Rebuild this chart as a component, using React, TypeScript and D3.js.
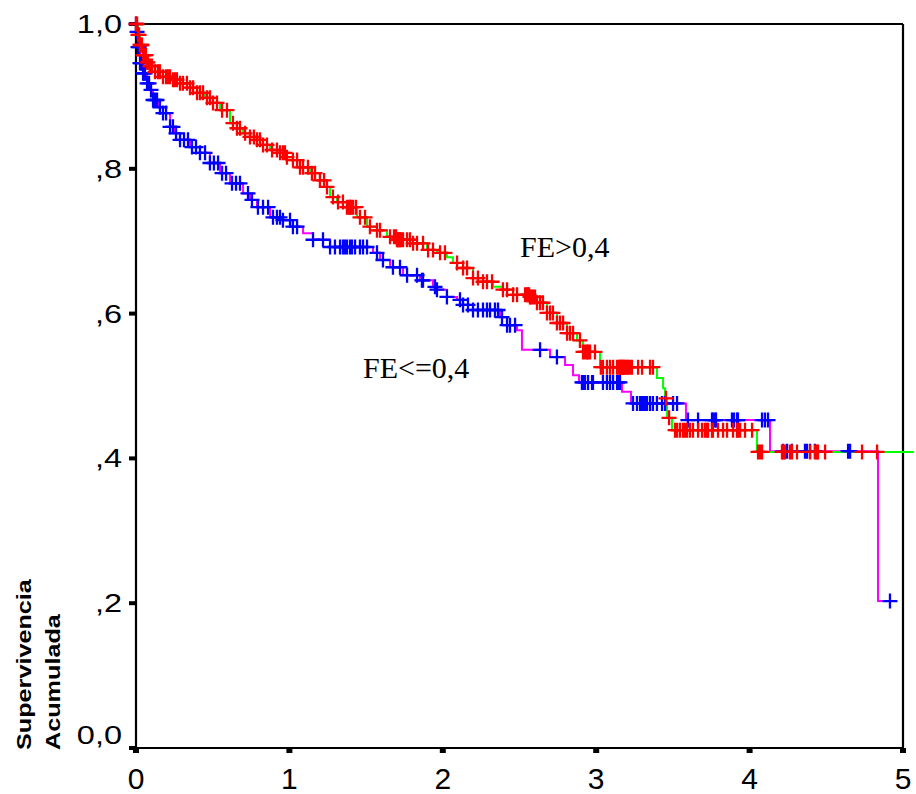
import React from "react";
import * as d3 from "d3";

// Kaplan-Meier: FE>0,4 (red marks / green line)
const hiTimes = [0.013,0.026,0.046,0.072,0.091,0.124,0.176,0.235,0.287,0.352,0.398,0.450,0.502,0.548,0.613,0.658,0.698,0.743,0.789,0.828,0.874,0.939,0.984,1.023,1.069,1.134,1.199,1.245,1.265,1.310,1.375,1.441,1.506,1.571,1.636,1.701,1.806,1.897,1.962,2.027,2.066,2.132,2.197,2.262,2.327,2.392,2.458,2.568,2.614,2.679,2.744,2.810,2.875,2.914,3.025,3.396,3.436,3.449,3.462,3.494,4.048];
const hiSurv = [0.985,0.971,0.957,0.947,0.942,0.934,0.927,0.923,0.918,0.912,0.905,0.898,0.891,0.881,0.863,0.856,0.849,0.844,0.840,0.833,0.826,0.822,0.816,0.812,0.802,0.794,0.784,0.775,0.761,0.754,0.747,0.733,0.720,0.715,0.706,0.702,0.697,0.688,0.684,0.678,0.670,0.663,0.649,0.644,0.637,0.633,0.626,0.623,0.615,0.601,0.587,0.573,0.563,0.547,0.526,0.511,0.497,0.483,0.456,0.439,0.409];
const hiEnd = 5.07;
const hiCensored = [0.000,0.007,0.013,0.020,0.026,0.033,0.039,0.046,0.052,0.059,0.065,0.072,0.078,0.091,0.104,0.124,0.143,0.156,0.176,0.196,0.209,0.222,0.241,0.254,0.267,0.287,0.306,0.332,0.352,0.372,0.398,0.417,0.437,0.463,0.482,0.502,0.528,0.561,0.593,0.632,0.658,0.678,0.711,0.743,0.769,0.789,0.808,0.828,0.854,0.887,0.919,0.939,0.958,0.971,0.984,1.023,1.050,1.069,1.089,1.121,1.147,1.167,1.199,1.226,1.245,1.284,1.317,1.349,1.375,1.389,1.395,1.402,1.415,1.434,1.460,1.493,1.525,1.571,1.591,1.656,1.682,1.695,1.701,1.708,1.714,1.721,1.728,1.741,1.767,1.786,1.806,1.832,1.871,1.904,1.936,1.982,2.014,2.093,2.132,2.158,2.197,2.229,2.262,2.288,2.321,2.392,2.419,2.458,2.484,2.536,2.549,2.555,2.562,2.568,2.575,2.588,2.601,2.614,2.634,2.653,2.679,2.699,2.718,2.744,2.764,2.784,2.810,2.829,2.849,2.894,2.914,2.927,2.940,2.947,2.960,2.992,3.030,3.044,3.070,3.090,3.110,3.136,3.149,3.155,3.162,3.168,3.175,3.181,3.188,3.201,3.207,3.220,3.233,3.273,3.299,3.351,3.370,3.455,3.475,3.514,3.527,3.546,3.566,3.579,3.592,3.611,3.631,3.664,3.690,3.709,3.722,3.729,3.755,3.761,3.794,3.827,3.853,3.892,3.918,3.924,3.938,3.970,4.016,4.055,4.068,4.081,4.211,4.218,4.231,4.263,4.276,4.309,4.394,4.426,4.439,4.446,4.492,4.733,4.831];

// Kaplan-Meier: FE<=0,4 (blue marks / magenta line)
const loTimes = [0.007,0.013,0.026,0.046,0.072,0.091,0.111,0.143,0.176,0.222,0.254,0.287,0.352,0.417,0.482,0.548,0.613,0.698,0.743,0.789,0.874,0.958,1.023,1.089,1.154,1.265,1.545,1.591,1.656,1.741,1.851,1.936,1.962,2.027,2.093,2.132,2.197,2.373,2.418,2.484,2.516,2.699,2.797,2.849,2.888,3.168,3.227,3.585,4.133,4.837];
const loSurv = [0.989,0.968,0.946,0.932,0.918,0.909,0.895,0.885,0.877,0.858,0.849,0.840,0.830,0.822,0.808,0.794,0.780,0.766,0.757,0.747,0.733,0.729,0.720,0.711,0.702,0.692,0.684,0.674,0.664,0.653,0.646,0.637,0.633,0.623,0.619,0.612,0.605,0.595,0.584,0.577,0.550,0.540,0.529,0.515,0.505,0.492,0.476,0.453,0.410,0.203];
const loEnd = 4.915;
const loCensored = [0.000,0.007,0.013,0.020,0.026,0.033,0.039,0.046,0.052,0.059,0.072,0.085,0.098,0.111,0.124,0.137,0.156,0.176,0.196,0.222,0.241,0.261,0.287,0.313,0.339,0.365,0.391,0.417,0.450,0.482,0.508,0.535,0.561,0.587,0.626,0.652,0.678,0.730,0.756,0.795,0.828,0.861,0.893,0.919,0.939,0.958,1.004,1.023,1.050,1.154,1.219,1.265,1.297,1.330,1.349,1.362,1.375,1.395,1.408,1.428,1.460,1.480,1.506,1.571,1.610,1.675,1.721,1.767,1.832,1.864,1.871,1.949,1.962,2.027,2.112,2.132,2.164,2.197,2.229,2.262,2.288,2.308,2.340,2.360,2.386,2.419,2.438,2.471,2.634,2.744,2.907,2.914,2.927,2.947,2.973,2.979,3.044,3.070,3.090,3.110,3.136,3.142,3.155,3.240,3.266,3.286,3.299,3.305,3.318,3.331,3.351,3.370,3.396,3.429,3.449,3.501,3.527,3.598,3.664,3.755,3.761,3.775,3.781,3.885,3.898,3.918,3.924,4.081,4.100,4.120,4.218,4.244,4.276,4.361,4.374,4.394,4.426,4.642,4.655,4.915];

const xTicks = [0, 1, 2, 3, 4, 5];
const yTicks = [0, 0.2, 0.4, 0.6, 0.8, 1.0];
const yTickLabels = ["0,0", ",2", ",4", ",6", ",8", "1,0"];
const yTitleLines = ["Supervivencia", "Acumulada"];
const groupLabels = ["FE>0,4", "FE<=0,4"];

const W = 916, H = 794;
const x = d3.scaleLinear().domain([0, 5]).range([136, 903]);
const y = d3.scaleLinear().domain([0, 1]).range([748, 24]);

function stepPoints(times: number[], surv: number[], end: number) {
  const pts: [number, number][] = [[0, 1]];
  times.forEach((t, i) => pts.push([t, surv[i]]));
  pts.push([end, surv[surv.length - 1]]);
  return pts;
}
function survAt(times: number[], surv: number[], t: number) {
  let s = 1;
  for (let i = 0; i < times.length; i++) {
    if (times[i] <= t) s = surv[i];
    else break;
  }
  return s;
}

const line = d3
  .line<[number, number]>()
  .x((d) => x(d[0]))
  .y((d) => y(d[1]))
  .curve(d3.curveStepAfter);

function Marks({ times, surv, cens, color }: any) {
  const h = 7.5;
  return (
    <g stroke={color} strokeWidth={2.3} fill="none">
      {cens.map((t: number, i: number) => {
        const cx = x(t);
        const cy = y(survAt(times, surv, t));
        return (
          <path key={i} d={`M${cx - h},${cy}H${cx + h}M${cx},${cy - h}V${cy + h}`} />
        );
      })}
    </g>
  );
}

export default function App() {
  const hiPts = stepPoints(hiTimes, hiSurv, hiEnd);
  const loPts = stepPoints(loTimes, loSurv, loEnd);
  return (
    <svg
      width={W}
      height={H}
      style={{ position: "absolute", left: 0, top: 0, background: "#fff" }}
    >
      <rect x={0} y={0} width={W} height={H} fill="#fff" />
      {/* frame */}
      <g stroke="#000" strokeWidth={2.2} fill="none">
        <line x1={x(0)} x2={x(5)} y1={y(1)} y2={y(1)} />
        <line x1={x(5)} x2={x(5)} y1={y(1)} y2={y(0)} />
        <line x1={x(0)} x2={x(0)} y1={y(1) - 1} y2={y(0) + 1} />
        <line x1={x(0)} x2={x(5)} y1={y(0)} y2={y(0)} />
      </g>
      {/* ticks */}
      {yTicks.map((v) => (
        <rect key={"yt" + v} x={x(0) - 7} y={y(v) - 2} width={7} height={4} fill="#000" />
      ))}
      {xTicks.map((v) => (
        <rect key={"xt" + v} x={x(v) - 3} y={y(0)} width={6} height={5} fill="#000" />
      ))}
      {/* y tick labels */}
      {yTicks.map((v, i) => (
        <text
          key={"yl" + v}
          transform={`translate(122,${v === 0 ? y(v) - 4 : y(v) + 9}) scale(1.3,1)`}
          textAnchor="end"
          fontFamily="Liberation Sans, Arial, sans-serif"
          fontSize={25}
          fill="#000"
        >
          {yTickLabels[i]}
        </text>
      ))}
      {/* x tick labels */}
      {xTicks.map((v) => (
        <text
          key={"xl" + v}
          x={x(v)}
          y={789}
          textAnchor="middle"
          fontFamily="Liberation Sans, Arial, sans-serif"
          fontSize={30}
          fill="#000"
        >
          {v}
        </text>
      ))}
      {/* y title */}
      {yTitleLines.map((s, i) => (
        <text
          key={s}
          transform={`translate(${i === 0 ? 31 : 60},750) rotate(-90) scale(1.2,1)`}
          textAnchor="start"
          fontFamily="Liberation Sans, Arial, sans-serif"
          fontWeight="bold"
          fontSize={21}
          fill="#000"
        >
          {s}
        </text>
      ))}
      {/* survival lines */}
      <path d={line(loPts) || ""} stroke="#ff00ff" strokeWidth={2} fill="none" />
      <path d={line(hiPts) || ""} stroke="#00ff00" strokeWidth={2} fill="none" />
      {/* censor marks */}
      <Marks times={loTimes} surv={loSurv} cens={loCensored} color="#0000ff" />
      <Marks times={hiTimes} surv={hiSurv} cens={hiCensored} color="#ff0000" />
      {/* group labels */}
      <text x={520} y={257} fontFamily="Liberation Serif, Times New Roman, serif" fontSize={30} fill="#000">
        {groupLabels[0]}
      </text>
      <text x={363} y={378} fontFamily="Liberation Serif, Times New Roman, serif" fontSize={30} fill="#000">
        {groupLabels[1]}
      </text>
    </svg>
  );
}
